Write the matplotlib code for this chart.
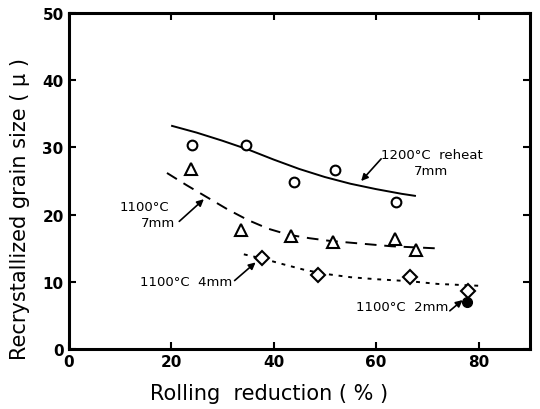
import matplotlib
matplotlib.use("Agg")
import matplotlib.pyplot as plt

# Data
circ_x = [24.0, 34.7, 43.9, 52.0, 63.9]
circ_y = [30.4, 30.3, 24.9, 26.7, 21.9]
tri_x = [23.9, 33.6, 43.5, 51.7, 63.7, 67.8]
tri_y = [26.8, 17.7, 16.8, 16.0, 16.4, 14.7]
dia_x = [37.7, 48.7, 66.6, 77.9]
dia_y = [13.5, 11.1, 10.8, 8.6]
fill_x = [77.8]
fill_y = [7.0]

solid_x = [20.2, 25, 30, 35, 40, 45, 50, 55, 60, 65, 67.6]
solid_y = [33.2, 32.2, 31.0, 29.7, 28.2, 26.8, 25.6, 24.6, 23.8, 23.1, 22.8]
dash_x = [19.2, 23, 27, 31, 35, 39, 43, 47, 51, 57, 63, 71.5]
dash_y = [26.2, 24.4, 22.6, 20.8, 19.2, 17.9, 17.0, 16.5, 16.1, 15.7, 15.3, 15.0]
dot_x = [34.2, 37.7, 42, 46, 50, 55, 60, 66.6, 72, 80.8]
dot_y = [14.1, 13.5, 12.6, 11.8, 11.2, 10.7, 10.4, 10.1, 9.7, 9.4]

x_ticks = [0, 20, 40, 60, 80]
y_ticks = [0, 10, 20, 30, 40, 50]

fig = plt.figure(figsize=(5.4, 4.1), dpi=100)
ax = fig.add_axes([0.127, 0.146, 0.854, 0.82])

lw = 1.4
ax.plot(solid_x, solid_y, color="black", lw=lw)
ax.plot(dash_x, dash_y, color="black", lw=lw, dashes=(6, 4))
ax.plot(dot_x, dot_y, color="black", lw=lw, dashes=(2, 3))

mk = dict(ls="none", mfc="white", mec="black", mew=1.5, zorder=3)
ax.plot(circ_x, circ_y, marker="o", ms=7, **mk)
ax.plot(tri_x, tri_y, marker="^", ms=8, **mk)
ax.plot(dia_x, dia_y, marker="D", ms=7, **mk)
ax.plot(fill_x, fill_y, marker="o", ms=7, ls="none", color="black", zorder=3)

arrow = dict(arrowstyle="-|>", color="black", lw=1.2, mutation_scale=10,
             shrinkA=0, shrinkB=0)
tfont = dict(fontsize=9.5, family="DejaVu Sans")
ax.annotate("", xy=(57.1, 25.0), xytext=(61.0, 28.3), arrowprops=arrow)
ax.text(60.9, 28.9, "1200°C  reheat", ha="left", va="center", **tfont)
ax.text(67.3, 26.5, "7mm", ha="left", va="center", **tfont)

ax.annotate("", xy=(26.4, 22.3), xytext=(21.6, 19.0), arrowprops=arrow)
ax.text(9.9, 21.2, "1100°C", ha="left", va="center", **tfont)
ax.text(14.2, 18.9, "7mm", ha="left", va="center", **tfont)

ax.annotate("", xy=(36.5, 12.9), xytext=(32.4, 10.2), arrowprops=arrow)
ax.text(32.0, 10.0, "1100°C  4mm", ha="right", va="center", **tfont)

ax.annotate("", xy=(76.9, 7.3), xytext=(74.4, 5.7), arrowprops=arrow)
ax.text(74.2, 6.4, "1100°C  2mm", ha="right", va="center", **tfont)

ax.set_xlim(0, 90)
ax.set_ylim(0, 50)
ax.set_xticks(x_ticks)
ax.set_yticks(y_ticks)
ax.tick_params(direction="in", length=5, width=1.5, top=True, right=True,
               labelsize=11)
for lab in ax.get_xticklabels() + ax.get_yticklabels():
    lab.set_fontweight("bold")
for s in ax.spines.values():
    s.set_linewidth(2.2)

ax.set_xlabel("Rolling  reduction ( % )", fontsize=15)
ax.xaxis.set_label_coords(0.434, -0.1)
ax.set_ylabel("Recrystallized grain size ( μ )", fontsize=15)
ax.yaxis.set_label_coords(-0.083, 0.42)

fig.savefig("out.png", dpi=100)
